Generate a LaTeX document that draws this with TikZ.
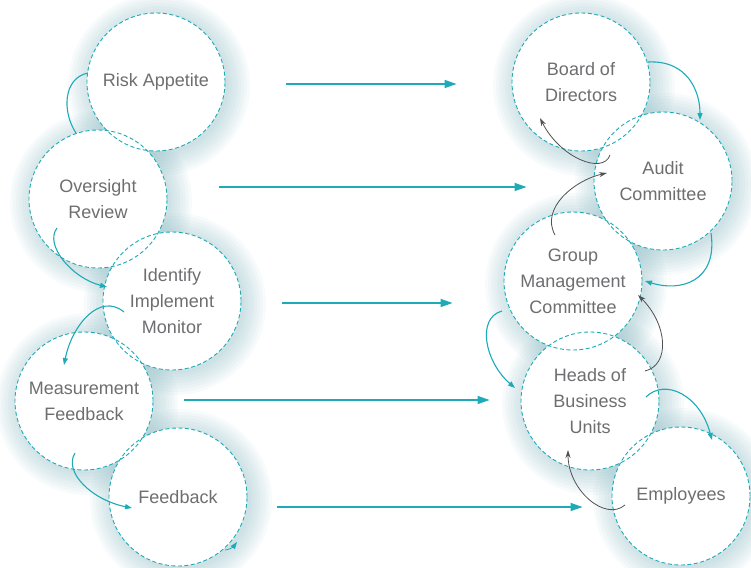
\documentclass[tikz,border=0pt]{standalone}
\usepackage{fontspec}
\setmainfont{Liberation Sans}
\usetikzlibrary{arrows.meta,backgrounds}
\definecolor{bubteal}{RGB}{30,170,182}
\definecolor{bubtext}{RGB}{110,110,113}
\definecolor{backline}{RGB}{80,80,84}
\definecolor{glowcol}{RGB}{120,175,185}

\begin{document}
\begin{tikzpicture}[x=1pt,y=-1pt,
  bubble/.style={circle,draw=bubteal,dash pattern=on 4pt off 2.5pt,line width=0.9pt,
    minimum size=138pt,inner sep=0pt,align=center,text=bubtext,
    font=\fontsize{18}{26}\selectfont},
  flow/.style={draw=bubteal,line width=1.4pt,-{Triangle[length=12pt,width=8pt]}},
  tealcurve/.style={draw=bubteal,line width=1.1pt,-{Triangle[length=7pt,width=5pt]}},
  graycurve/.style={draw=backline,line width=0.8pt,-{Stealth[length=8pt,width=5pt]}}]
\useasboundingbox (0,0) rectangle (751,567);

\node[bubble] (risk) at (156,82) {Risk Appetite};
\node[bubble] (over) at (98,199) {Oversight\\Review};
\node[bubble] (ident) at (172,301) {Identify\\Implement\\Monitor};
\node[bubble] (meas) at (84,401) {Measurement\\Feedback};
\node[bubble] (feed) at (178,497) {Feedback};
\node[bubble] (board) at (581,82) {Board of\\Directors};
\node[bubble] (audit) at (663,181) {Audit\\Committee};
\node[bubble] (group) at (573,281) {Group\\Management\\Committee};
\node[bubble] (heads) at (590,401) {Heads of\\Business\\Units};
\node[bubble] (empl) at (681,496) {Employees};

\begin{scope}[on background layer]
\foreach \b in {risk,over,ident,meas,feed,board,audit,group,heads,empl}
  \foreach \r in {70,73,...,91}
    \fill[glowcol,opacity=0.055] ([shift={(3,3)}]\b.center) circle[radius=\r pt];
\foreach \b in {risk,over,ident,meas,feed,board,audit,group,heads,empl}
  \fill[white] (\b.center) circle[radius=69pt];
\end{scope}

\draw[flow] ([shift={(61,2)}]risk.east) -- ([shift={(-55,2)}]board.west);
\draw[flow] ([shift={(52,-12)}]over.east) -- ([shift={(-67,6)}]audit.west);
\draw[flow] ([shift={(41,2)}]ident.east) -- ([shift={(-51,22)}]group.west);
\draw[flow] ([shift={(31,-1)}]meas.east) -- ([shift={(-31,-1)}]heads.west);
\draw[flow] ([shift={(30,10)}]feed.east) -- ([shift={(-29,11)}]empl.west);

\draw[tealcurve,-] ([shift={(-68,-9)}]risk.center) .. controls +(-25,5) and +(-14,-21) .. ([shift={(-22,-66)}]over.center);
\draw[tealcurve] ([shift={(-41,29)}]over.center) .. controls +(-13,17) and +(-35,-9) .. ([shift={(-65,-14)}]ident.center);
\draw[tealcurve] ([shift={(-48,11)}]ident.center) .. controls +(-24,-20) and +(8,-40) .. ([shift={(-20,-36)}]meas.center);
\draw[tealcurve] ([shift={(-9,52)}]meas.center) .. controls +(-12,19) and +(-40,-8) .. ([shift={(-46,11)}]feed.center);
\draw[tealcurve,line width=0.8pt] ([shift={(47,53)}]feed.center) .. controls +(7,-1) and +(-3,4) .. ([shift={(59,45)}]feed.center);

\draw[tealcurve] ([shift={(67,-20)}]board.center) .. controls +(40,-2) and +(0,-28) .. ([shift={(37,-61)}]audit.center);
\draw[graycurve] ([shift={(-53,-26)}]audit.center) .. controls +(-7,20) and +(20,40) .. ([shift={(-41,36)}]board.center);
\draw[graycurve] ([shift={(-18,-46)}]group.center) .. controls +(-15,-27) and +(-32,7) .. ([shift={(-56,-8)}]audit.center);
\draw[tealcurve] ([shift={(48,52)}]audit.center) .. controls +(7,49) and +(35,11) .. ([shift={(72,0)}]group.center);
\draw[graycurve] ([shift={(55,-30)}]heads.center) .. controls +(25,-6) and +(30,30) .. ([shift={(65,14)}]group.center);
\draw[tealcurve] ([shift={(-71,30)}]group.center) .. controls +(-26,7) and +(-30,-26) .. ([shift={(-75,-13)}]heads.center);
\draw[tealcurve] ([shift={(56,-4)}]heads.center) .. controls +(19,-19) and +(-12,-45) .. ([shift={(31,-56)}]empl.center);
\draw[graycurve] ([shift={(-56,9)}]empl.center) .. controls +(-20,17) and +(0,40) .. ([shift={(-22,49)}]heads.center);
\end{tikzpicture}
\end{document}
